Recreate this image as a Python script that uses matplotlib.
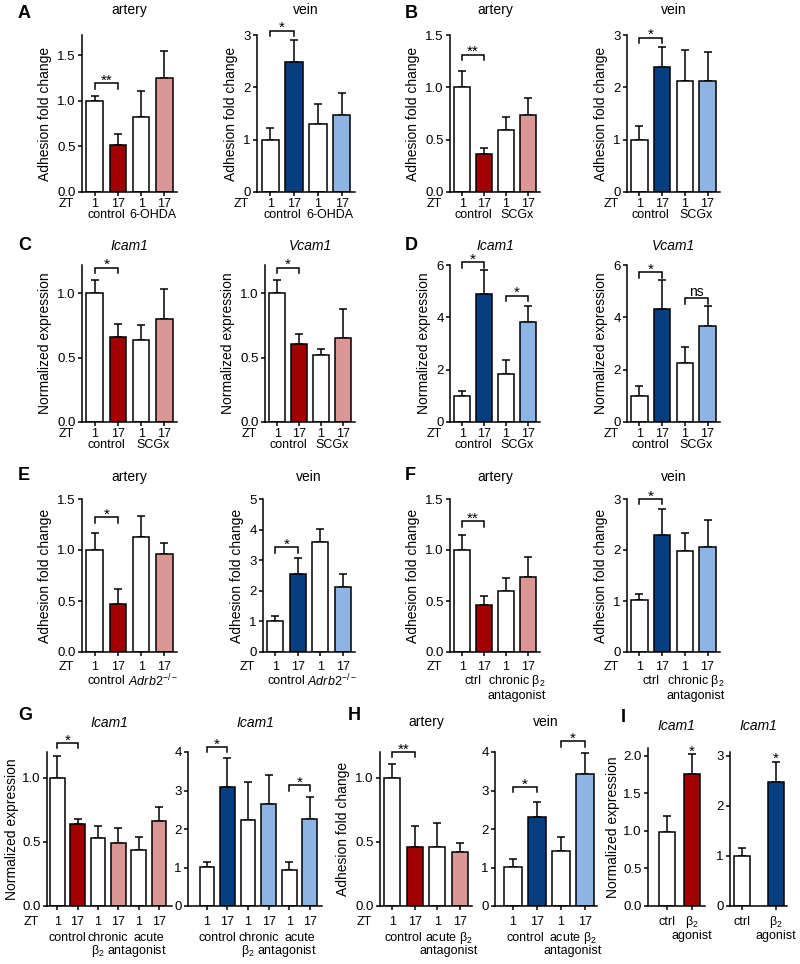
import matplotlib.pyplot as plt

plt.rcParams['font.family'] = ['Liberation Sans', 'DejaVu Sans']
plt.rcParams['mathtext.fontset'] = 'custom'
plt.rcParams['mathtext.rm'] = 'Liberation Sans'
plt.rcParams['mathtext.it'] = 'Liberation Sans:italic'

RED = '#a10000'
PINK = '#da9795'
BLUE = '#063f80'
LBLUE = '#8db4e2'

# mean and upper error (fold change / normalized expression)
a_art = [1.0, 0.51, 0.82, 1.25]
a_art_err = [0.05, 0.13, 0.29, 0.29]
a_vein = [1.0, 2.48, 1.30, 1.48]
a_vein_err = [0.23, 0.42, 0.39, 0.42]
b_art = [1.0, 0.36, 0.59, 0.74]
b_art_err = [0.16, 0.06, 0.13, 0.16]
b_vein = [1.0, 2.38, 2.12, 2.12]
b_vein_err = [0.27, 0.39, 0.59, 0.56]
c_icam = [1.0, 0.66, 0.64, 0.80]
c_icam_err = [0.10, 0.10, 0.11, 0.23]
c_vcam = [1.0, 0.61, 0.52, 0.65]
c_vcam_err = [0.10, 0.07, 0.05, 0.23]
d_icam = [1.0, 4.90, 1.85, 3.83]
d_icam_err = [0.17, 0.90, 0.52, 0.59]
d_vcam = [1.0, 4.30, 2.27, 3.65]
d_vcam_err = [0.37, 1.13, 0.58, 0.77]
e_art = [1.0, 0.47, 1.13, 0.96]
e_art_err = [0.17, 0.15, 0.20, 0.11]
e_vein = [1.02, 2.54, 3.58, 2.14]
e_vein_err = [0.15, 0.54, 0.44, 0.40]
f_art = [1.0, 0.46, 0.60, 0.74]
f_art_err = [0.15, 0.09, 0.13, 0.19]
f_vein = [1.01, 2.29, 1.99, 2.05]
f_vein_err = [0.12, 0.51, 0.34, 0.54]
g_art = [1.0, 0.636, 0.527, 0.49, 0.44, 0.66]
g_art_err = [0.17, 0.045, 0.095, 0.12, 0.10, 0.11]
g_vein = [1.02, 3.09, 2.24, 2.64, 0.93, 2.27]
g_vein_err = [0.13, 0.75, 0.98, 0.77, 0.20, 0.56]
h_art = [1.0, 0.46, 0.46, 0.42]
h_art_err = [0.11, 0.16, 0.19, 0.07]
h_vein = [1.02, 2.30, 1.43, 3.43]
h_vein_err = [0.19, 0.39, 0.37, 0.54]
i_art = [0.99, 1.75]
i_art_err = [0.20, 0.27]
i_vein = [1.0, 2.47]
i_vein_err = [0.16, 0.41]

zt4 = ['1', '17', '1', '17']
zt6 = ['1', '17', '1', '17', '1', '17']
trt = ['ctrl', r'β$_2$']
art4 = ['white', RED, 'white', PINK]
vein4 = ['white', BLUE, 'white', LBLUE]
art6 = ['white', RED, 'white', PINK, 'white', PINK]
vein6 = ['white', BLUE, 'white', LBLUE, 'white', LBLUE]

W, H = 800, 964
fig = plt.figure(figsize=(8, 9.64), dpi=100)


def note(ax, txt, xy, xycoords, off, coords, va='center', size=9):
    ax.annotate(txt, xy=xy, xycoords=xycoords, xytext=off, textcoords=coords,
                ha='center', va=va, fontsize=size, annotation_clip=False)


def panel(box, means, errs, cols, ylim, yticks, fmt, ticklabels, groups, offs,
          title=None, tpad=16, italic=False, ylabel=None, lpad=4, zt=True,
          brackets=(), stars=(), xlim=(-0.55, 3.55), width=0.72):
    x0, x1, y0, y1 = box
    ax = fig.add_axes([x0 / W, 1 - y1 / H, (x1 - x0) / W, (y1 - y0) / H])
    xs = list(range(len(means)))
    ax.errorbar(xs, means, yerr=[[0] * len(xs), errs], fmt='none', ecolor='k',
                elinewidth=1.1, capsize=3, capthick=1.1, zorder=1)
    ax.bar(xs, means, width, color=cols, edgecolor='k', linewidth=1.1, zorder=2)
    ax.set_xlim(xlim)
    ax.set_ylim(ylim)
    ax.set_yticks(yticks)
    ax.set_yticklabels([fmt % t for t in yticks])
    ax.set_xticks(xs)
    ax.tick_params(axis='x', labelbottom=False, length=3, width=1.1)
    ax.tick_params(axis='y', length=3, width=1.1, pad=1.5, labelsize=9.5)
    for s in ('top', 'right'):
        ax.spines[s].set_visible(False)
    for s in ('left', 'bottom'):
        ax.spines[s].set_linewidth(1.1)
    if title:
        ax.set_title(title, fontsize=10, pad=tpad,
                     fontstyle='italic' if italic else 'normal')
    if ylabel:
        ax.set_ylabel(ylabel, fontsize=10, labelpad=lpad)
    bottom = ('data', 'axes fraction')
    for x, lab in zip(xs, ticklabels):
        note(ax, lab, (x, 0), bottom, (0, -offs[0]), 'offset pixels')
    if zt:
        note(ax, 'ZT', (0, 0), 'axes fraction', (-16, -offs[0]), 'offset pixels')
    for x, line, lab in groups:
        note(ax, lab, (x, 0), bottom, (0, -offs[line]), 'offset pixels')
    leg = 0.035 * ylim[1]
    for i, j, y, txt in brackets:
        ax.plot([i, i, j, j], [y - leg, y, y, y - leg], color='k', lw=1.1,
                clip_on=False, solid_joinstyle='miter')
        if txt == 'ns':
            note(ax, txt, ((i + j) / 2, y), 'data', (0, 1.5), 'offset points',
                 va='baseline', size=10)
        else:
            note(ax, txt, ((i + j) / 2, y), 'data', (0, -1), 'offset points',
                 va='baseline', size=11)
    for i in stars:
        note(ax, '*', (i, means[i] + errs[i]), 'data', (0, -1), 'offset points',
             va='baseline', size=11)
    return ax


adh = 'Adhesion fold change'
nexp = 'Normalized expression'

# row 1: A, B
r1 = (12, 23)
panel((82, 177, 35, 192), a_art, a_art_err, art4, (0, 1.72), [0, 0.5, 1.0, 1.5], '%.1f',
      zt4, [(0.5, 1, 'control'), (2.5, 1, '6-OHDA')], r1, title='artery', tpad=15,
      ylabel=adh, brackets=[(0, 1, 1.19, '**')])
panel((257, 355, 35, 192), a_vein, a_vein_err, vein4, (0, 3), [0, 1, 2, 3], '%d',
      zt4, [(0.5, 1, 'control'), (2.5, 1, '6-OHDA')], r1, title='vein', tpad=15,
      ylabel=adh, brackets=[(0, 1, 3.08, '*')])
panel((450, 540, 35, 192), b_art, b_art_err, art4, (0, 1.5), [0, 0.5, 1.0, 1.5], '%.1f',
      zt4, [(0.5, 1, 'control'), (2.5, 1, 'SCGx')], r1, title='artery', tpad=15,
      ylabel=adh, brackets=[(0, 1, 1.31, '**')])
panel((627, 720, 35, 192), b_vein, b_vein_err, vein4, (0, 3), [0, 1, 2, 3], '%d',
      zt4, [(0.5, 1, 'control'), (2.5, 1, 'SCGx')], r1, title='vein', tpad=15,
      ylabel=adh, brackets=[(0, 1, 2.95, '*')])

# row 2: C, D
r2 = (12, 23)
panel((82, 177, 265, 422), c_icam, c_icam_err, art4, (0, 1.22), [0, 0.5, 1.0], '%.1f',
      zt4, [(0.5, 1, 'control'), (2.5, 1, 'SCGx')], r2, title='Icam1', tpad=11,
      italic=True, ylabel=nexp, brackets=[(0, 1, 1.20, '*')])
panel((265, 355, 265, 422), c_vcam, c_vcam_err, art4, (0, 1.22), [0, 0.5, 1.0], '%.1f',
      zt4, [(0.5, 1, 'control'), (2.5, 1, 'SCGx')], r2, title='Vcam1', tpad=11,
      italic=True, ylabel=nexp, brackets=[(0, 1, 1.20, '*')])
panel((450, 540, 265, 422), d_icam, d_icam_err, vein4, (0, 6), [0, 2, 4, 6], '%d',
      zt4, [(0.5, 1, 'control'), (2.5, 1, 'SCGx')], r2, title='Icam1', tpad=11,
      italic=True, ylabel=nexp, brackets=[(0, 1, 6.1, '*'), (2, 3, 4.83, '*')])
panel((627, 720, 265, 422), d_vcam, d_vcam_err, vein4, (0, 6), [0, 2, 4, 6], '%d',
      zt4, [(0.5, 1, 'control'), (2.5, 1, 'SCGx')], r2, title='Vcam1', tpad=11,
      italic=True, ylabel=nexp, brackets=[(0, 1, 5.72, '*'), (2, 3, 4.73, 'ns')])

# row 3: E, F
r3 = (15, 29, 44)
adrb = r'$\it{Adrb2}^{-/-}$'
panel((82, 177, 499, 652), e_art, e_art_err, art4, (0, 1.5), [0, 0.5, 1.0, 1.5], '%.1f',
      zt4, [(0.5, 1, 'control'), (2.5, 1, adrb)], r3, title='artery', tpad=13,
      ylabel=adh, brackets=[(0, 1, 1.32, '*')])
panel((263, 355, 499, 652), e_vein, e_vein_err, vein4, (0, 5), [0, 1, 2, 3, 4, 5], '%d',
      zt4, [(0.5, 1, 'control'), (2.5, 1, adrb)], r3, title='vein', tpad=13,
      ylabel=adh, brackets=[(0, 1, 3.42, '*')])
fgroups = [(0.5, 1, 'ctrl'), (2.5, 1, r'chronic β$_2$'), (2.5, 2, 'antagonist')]
panel((450, 540, 499, 652), f_art, f_art_err, art4, (0, 1.5), [0, 0.5, 1.0, 1.5], '%.1f',
      zt4, fgroups, r3, title='artery', tpad=13,
      ylabel=adh, brackets=[(0, 1, 1.28, '**')])
panel((627, 720, 499, 652), f_vein, f_vein_err, vein4, (0, 3), [0, 1, 2, 3], '%d',
      zt4, fgroups, r3, title='vein', tpad=13,
      ylabel=adh, brackets=[(0, 1, 3.0, '*')])

# row 4: G, H, I
r4 = (16, 32, 45)
ggroups = [(0.5, 1, 'control'), (2.5, 1, 'chronic'), (4.5, 1, 'acute'),
           (3.5, 2, r'β$_2$ antagonist')]
panel((47, 172, 752, 906), g_art, g_art_err, art6, (0, 1.2), [0, 0.5, 1.0], '%.1f',
      zt6, ggroups, r4, title='Icam1', tpad=18, italic=True, ylabel=nexp, lpad=2,
      brackets=[(0, 1, 1.27, '*')], xlim=(-0.5, 5.64))
panel((188, 322, 752, 906), g_vein, g_vein_err, vein6, (0, 4), [0, 1, 2, 3, 4], '%d',
      zt6, ggroups, r4, title='Icam1', tpad=18, italic=True, zt=False,
      brackets=[(0, 1, 4.13, '*'), (4, 5, 3.14, '*')], xlim=(-0.92, 5.6))
hgroups = [(0.5, 1, 'control'), (2.5, 1, r'acute β$_2$'), (2.5, 2, 'antagonist')]
panel((380, 472, 752, 906), h_art, h_art_err, art4, (0, 1.2), [0, 0.5, 1.0], '%.1f',
      zt4, hgroups, r4, title='artery', tpad=19, ylabel=adh,
      brackets=[(0, 1, 1.2, '**')])
panel((495, 597, 752, 906), h_vein, h_vein_err, vein4, (0, 4), [0, 1, 2, 3, 4], '%d',
      zt4, hgroups, r4, title='vein', tpad=19, zt=False,
      brackets=[(0, 1, 3.09, '*'), (2, 3, 4.28, '*')], xlim=(-0.75, 3.5))
panel((648, 705, 748, 906), i_art, i_art_err, ['white', RED], (0, 2.1),
      [0, 0.5, 1.0, 1.5, 2.0], '%.1f', trt, [(1, 1, 'agonist')], (16, 30),
      title='Icam1', tpad=13, italic=True, ylabel=nexp, lpad=2, zt=False,
      stars=[1], xlim=(-0.76, 1.52), width=0.67)
panel((730, 787, 752, 906), i_vein, i_vein_err, ['white', BLUE], (0, 3.07),
      [0, 1, 2, 3], '%d', trt, [(1, 1, 'agonist')], (16, 30),
      title='Icam1', tpad=16, italic=True, zt=False,
      stars=[1], xlim=(-0.35, 1.32), width=0.47)

for lab, x, y in [('A', 18, 14), ('B', 405, 14), ('C', 18, 246), ('D', 405, 246),
                  ('E', 18, 475), ('F', 405, 475), ('G', 18, 716), ('H', 348, 716),
                  ('I', 621, 717)]:
    fig.text(x / W, 1 - y / H, lab, fontsize=13, fontweight='bold',
             ha='left', va='center')

fig.savefig('out.png', dpi=100)
